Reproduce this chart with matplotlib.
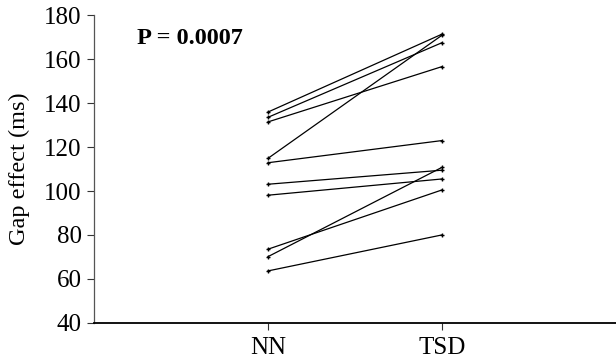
import matplotlib
matplotlib.use("Agg")
import matplotlib.pyplot as plt

conditions = ["NN", "TSD"]
nn_values = [136.0, 133.6, 131.5, 114.9, 112.9, 103.1, 98.1, 73.5, 70.1, 63.6]
tsd_values = [171.5, 167.6, 156.7, 171.0, 123.0, 109.5, 105.5, 100.5, 110.8, 80.0]
p_label = "P = 0.0007"

plt.rcParams["font.family"] = ["Liberation Serif", "DejaVu Serif"]

fig = plt.figure(figsize=(6.16, 3.6), dpi=100)
ax = fig.add_axes([0.1526, 0.1036, 0.8474, 0.8534])

x = [1, 2]
for nn, tsd in zip(nn_values, tsd_values):
    ax.plot(x, [nn, tsd], color="black", lw=0.9, marker="+", ms=3.5, mew=1.0)

ax.set_xlim(0, 3)
ax.set_ylim(40, 180)
ax.set_yticks(range(40, 181, 20))
ax.set_xticks(x)
ax.set_xticklabels(conditions)
ax.tick_params(axis="both", labelsize=18, direction="out", length=5, width=0.8,
               colors="#333333", labelcolor="black")
ax.tick_params(axis="y", pad=4)
ax.tick_params(axis="x", pad=5)
ax.set_ylabel("Gap effect (ms)", fontsize=17.5, labelpad=10)

ax.spines["top"].set_visible(False)
ax.spines["right"].set_visible(False)
ax.spines["left"].set_color("#555555")
ax.spines["left"].set_linewidth(0.9)
ax.spines["bottom"].set_linewidth(1.3)

ax.text(0.247, 169.7, p_label, fontsize=17.5, fontweight="bold", va="center", ha="left")

fig.savefig("out.png", dpi=100)
